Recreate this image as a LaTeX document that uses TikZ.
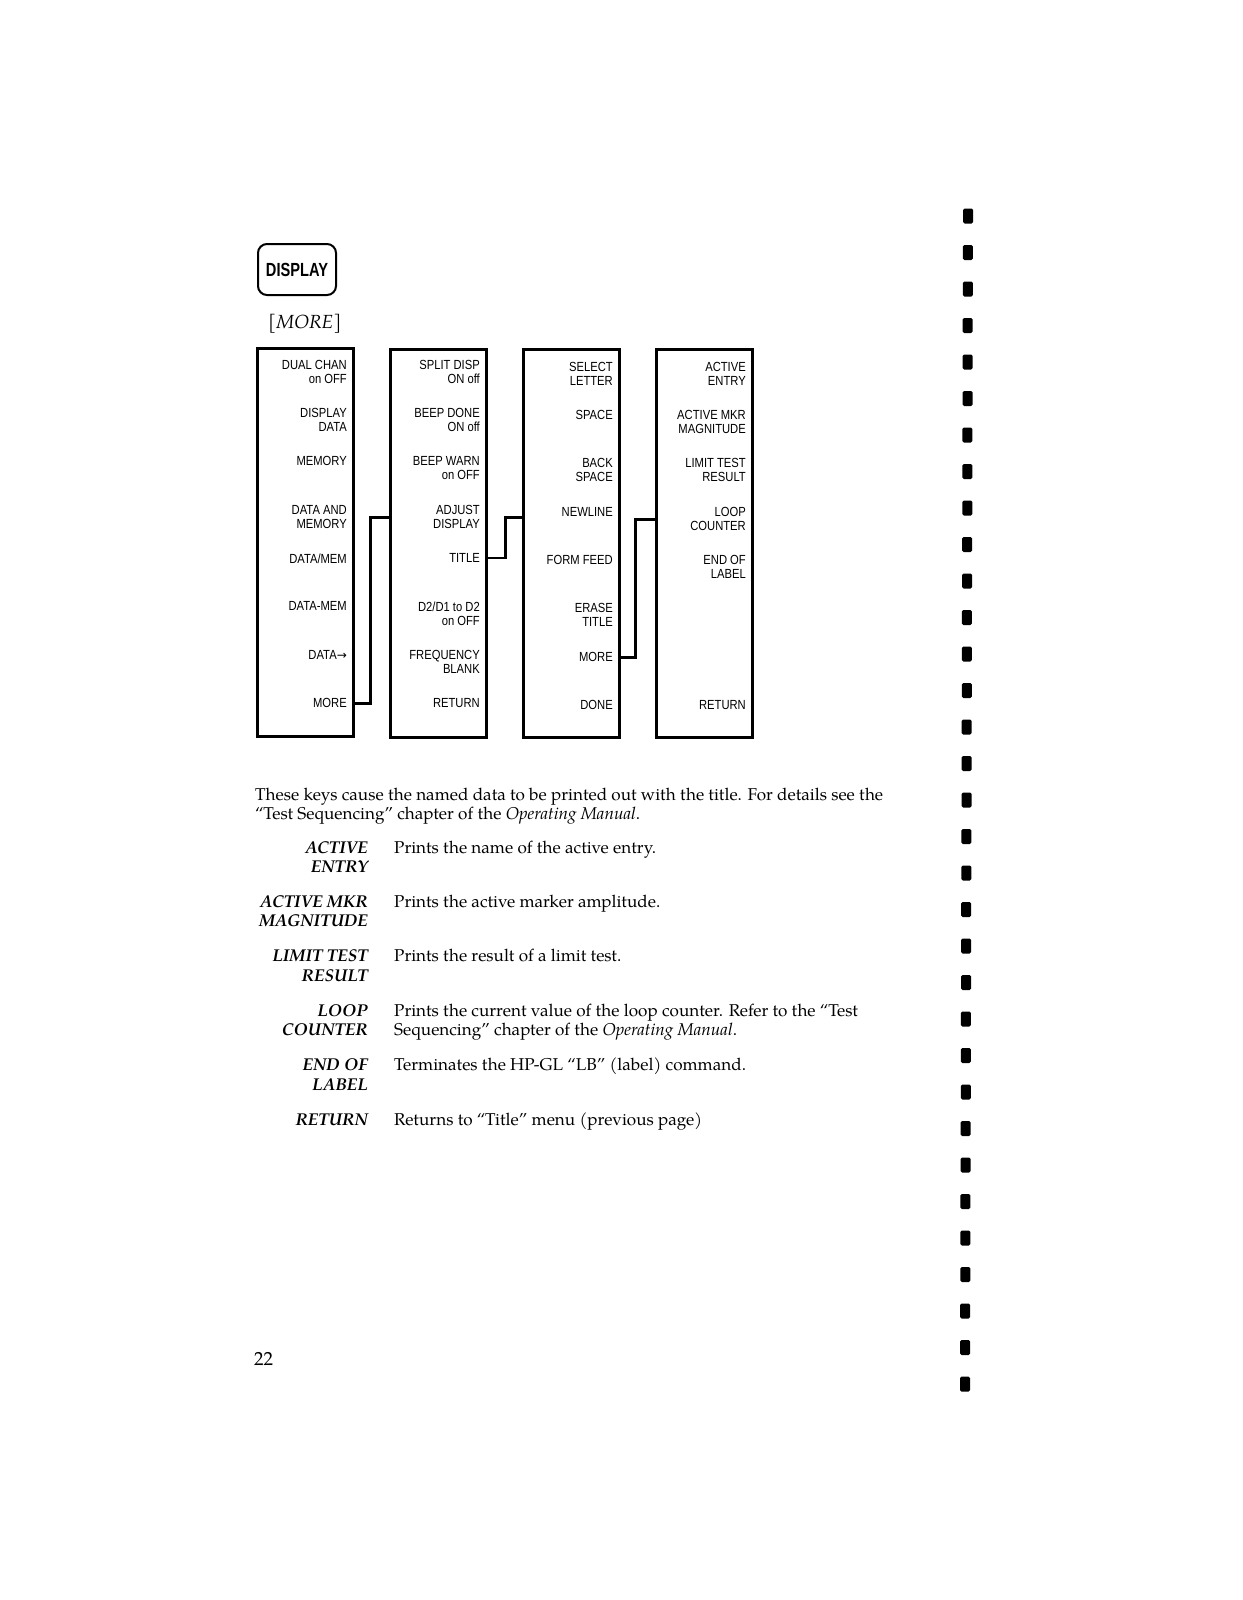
\documentclass[tikz,border=0pt]{standalone}
\usepackage{fontspec}
\newfontfamily\keyfont[FakeStretch=0.85]{Liberation Sans}
\newfontfamily\hardkeyfont[FakeStretch=0.77]{Liberation Sans}
\newfontfamily\arrowfont{DejaVu Sans}
\IfFontExistsTF{TeX Gyre Pagella}
  {\newfontfamily\palfont[Ligatures=TeX]{TeX Gyre Pagella}}
  {\newfontfamily\palfont[Ligatures=TeX]{Liberation Serif}}
\tikzset{
  keybox/.style={draw, line width=2.5pt, minimum width=96pt, minimum height=388pt, inner sep=0pt, anchor=north west},
  softkey/.style={font=\keyfont\fontsize{13.2}{14}\selectfont, align=right, anchor=north east, inner sep=0pt},
  link/.style={line width=2.8pt, line join=miter},
  hardkey/.style={draw, line width=2pt, rounded corners=9pt, minimum width=78pt, minimum height=51pt, inner sep=0pt, font=\hardkeyfont\bfseries\fontsize{19}{20}\selectfont},
  bodytext/.style={font=\palfont\fontsize{17.1}{19.5}\selectfont, anchor=base west, inner sep=0pt},
  term/.style={font=\palfont\bfseries\itshape\fontsize{17.1}{19.5}\selectfont, anchor=base east, inner sep=0pt},
  hole/.style={fill=black, rounded corners=1.5pt}
}
\begin{document}
\begin{tikzpicture}[x=1pt,y=-1pt]
\fill[white] (0,0) rectangle (1242,1600);
\useasboundingbox (0,0) rectangle (1242,1600);

% hard key and menu title
\node[hardkey] (disp) at (297,269.5) {DISPLAY};
\node[font=\palfont\itshape\fontsize{19}{20}\selectfont, anchor=base west, inner sep=0pt] (more) at (268,328) {[MORE]};

% softkey menus
\node[keybox] (b1) at (256,347) {};
\node[keybox] (b2) at (389,348) {};
\node[keybox] (b3) at (522,348) {};
\node[keybox] (b4) at (655,348) {};

% box 1
\node[softkey] (k11) at (347,360.25) {DUAL CHAN\\on OFF};
\node[softkey] (k12) at (347,408.25) {DISPLAY\\DATA};
\node[softkey] (k13) at (347,456.25) {MEMORY};
\node[softkey] (k14) at (347,505.25) {DATA AND\\MEMORY};
\node[softkey] (k15) at (347,553.25) {DATA/MEM};
\node[softkey] (k16) at (347,601.25) {DATA-MEM};
\node[softkey] (k17) at (347,650.25) {DATA{\arrowfont\fontsize{12}{14}\selectfont→}};
\node[softkey] (k18) at (347,698.25) {MORE};

% box 2
\node[softkey] (k21) at (480,360.25) {SPLIT DISP\\ON off};
\node[softkey] (k22) at (480,408.25) {BEEP DONE\\ON off};
\node[softkey] (k23) at (480,456.25) {BEEP WARN\\on OFF};
\node[softkey] (k24) at (480,505.25) {ADJUST\\DISPLAY};
\node[softkey] (k25) at (480,553.25) {TITLE};
\node[softkey] (k26) at (480,601.25) {D2/D1 to D2\\on OFF};
\node[softkey] (k27) at (480,650.25) {FREQUENCY\\BLANK};
\node[softkey] (k28) at (480,698.25) {RETURN};

% box 3
\node[softkey] (k31) at (613,362.25) {SELECT\\LETTER};
\node[softkey] (k32) at (613,410.25) {SPACE};
\node[softkey] (k33) at (613,458.25) {BACK\\SPACE};
\node[softkey] (k34) at (613,507.25) {NEWLINE};
\node[softkey] (k35) at (613,555.25) {FORM FEED};
\node[softkey] (k36) at (613,603.25) {ERASE\\TITLE};
\node[softkey] (k37) at (613,652.25) {MORE};
\node[softkey] (k38) at (613,700.25) {DONE};

% box 4
\node[softkey] (k41) at (746,362.25) {ACTIVE\\ENTRY};
\node[softkey] (k42) at (746,410.25) {ACTIVE MKR\\MAGNITUDE};
\node[softkey] (k43) at (746,458.25) {LIMIT TEST\\RESULT};
\node[softkey] (k44) at (746,507.25) {LOOP\\COUNTER};
\node[softkey] (k45) at (746,555.25) {END OF\\LABEL};
\node[softkey] (k48) at (746,700.25) {RETURN};

% connectors
\draw[link] (b1.east |- k18) -- ++(16,0) |- (b2.west |- k24);
\draw[link] (b2.east |- k25) -- ++(18,0) |- (b3.west |- k24);
\draw[link] (b3.east |- k37) -- ++(15,0) |- (b4.west |- k44);

% body text
\node[bodytext] (p1) at (255,800) {These keys cause the named data to be printed out with the title. For details see the};
\node[bodytext] (p2) at (255,819.5) {“Test Sequencing” chapter of the \textit{Operating Manual}.};

\node[term] (t1a) at (368,853) {ACTIVE};
\node[term] (t1b) at (368,872.5) {ENTRY};
\node[bodytext] (d1) at (394,853) {Prints the name of the active entry.};

\node[term] (t2a) at (368,907.4) {ACTIVE MKR};
\node[term] (t2b) at (368,926.9) {MAGNITUDE};
\node[bodytext] (d2) at (394,907.4) {Prints the active marker amplitude.};

\node[term] (t3a) at (368,961.8) {LIMIT TEST};
\node[term] (t3b) at (368,981.3) {RESULT};
\node[bodytext] (d3) at (394,961.8) {Prints the result of a limit test.};

\node[term] (t4a) at (368,1016.2) {LOOP};
\node[term] (t4b) at (368,1035.7) {COUNTER};
\node[bodytext] (d4a) at (394,1016.2) {Prints the current value of the loop counter. Refer to the “Test};
\node[bodytext] (d4b) at (394,1035.7) {Sequencing” chapter of the \textit{Operating Manual}.};

\node[term] (t5a) at (368,1070.6) {END OF};
\node[term] (t5b) at (368,1090.1) {LABEL};
\node[bodytext] (d5) at (394,1070.6) {Terminates the HP-GL “LB” (label) command.};

\node[term] (t6a) at (368,1125) {RETURN};
\node[bodytext] (d6) at (394,1125) {Returns to “Title” menu (previous page)};

% page number
\node[font=\palfont\fontsize{19}{20}\selectfont, anchor=base west, inner sep=0pt] (pg) at (254,1365) {22};

% binding holes
\foreach \i in {0,...,32} {
  \pgfmathsetmacro{\yy}{216+36.5*\i}
  \pgfmathsetmacro{\xx}{968-3*\i/32}
  \fill[hole] (\xx-5,\yy-7.5) rectangle (\xx+5,\yy+7.5);
}
\end{tikzpicture}
\end{document}
